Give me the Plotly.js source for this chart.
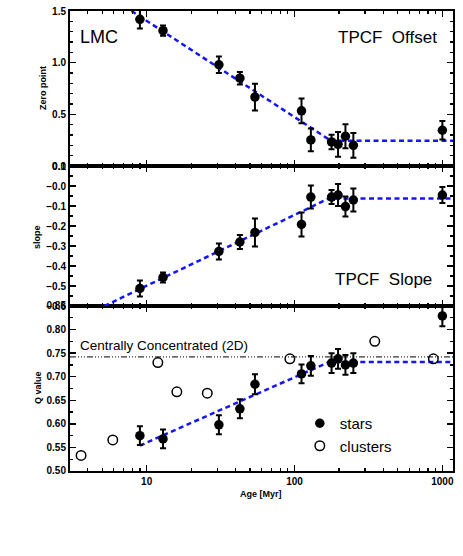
<!DOCTYPE html>
<html>
<head>
<meta charset="utf-8">
<script src="https://cdn.plot.ly/plotly-3.0.1.min.js"></script>
<style>html,body{margin:0;padding:0;background:#fff;}#plot{width:463px;height:556px;}</style>
</head>
<body>
<div id="plot"></div>
<script>
// ---- data ----
var starAge = [9.0, 12.9, 30.8, 42.7, 54, 111.5, 129, 178, 197, 221, 250, 1000];
var zeroPoint = [1.42, 1.31, 0.98, 0.85, 0.667, 0.534, 0.252, 0.233, 0.21, 0.288, 0.20, 0.346];
var zeroErr = [0.09, 0.05, 0.08, 0.06, 0.13, 0.12, 0.11, 0.07, 0.12, 0.115, 0.12, 0.09];
var slope = [-0.512, -0.457, -0.327, -0.28, -0.232, -0.192, -0.055, -0.055, -0.045, -0.103, -0.07, -0.045];
var slopeErr = [0.04, 0.025, 0.04, 0.035, 0.07, 0.06, 0.057, 0.035, 0.055, 0.05, 0.057, 0.04];
var qStars = [0.575, 0.568, 0.598, 0.632, 0.684, 0.706, 0.723, 0.729, 0.738, 0.725, 0.729, 0.829];
var qStarsErr = [0.02, 0.02, 0.02, 0.02, 0.021, 0.02, 0.021, 0.021, 0.021, 0.021, 0.021, 0.022];
var clusterAge = [3.6, 5.9, 11.9, 16, 25.7, 93, 349, 869];
var qClusters = [0.533, 0.566, 0.73, 0.668, 0.665, 0.738, 0.775, 0.738];
var fitZeroX = [7.9, 176, 1180], fitZeroY = [1.5, 0.245, 0.245];
var fitSlopeX = [5.18, 171, 1180], fitSlopeY = [-0.6, -0.062, -0.062];
var fitQX = [9.0, 171, 1180], fitQY = [0.554, 0.731, 0.731];
var ccX = [3.03, 1180], ccY = [0.742, 0.742];
var xTicks = [10, 100, 1000], xTickText = ['10', '100', '1000'];
var xMinor = [4,5,6,7,8,9,20,30,40,50,60,70,80,90,200,300,400,500,600,700,800,900];
var y1Ticks = [0, 0.5, 1.0, 1.5], y1Text = ['0.0', '0.5', '1.0', '1.5'];
var y2Ticks = [-0.6, -0.5, -0.4, -0.3, -0.2, -0.1, 0, 0.1];
var y2Text = ['\u22120.6', '\u22120.5', '\u22120.4', '\u22120.3', '\u22120.2', '\u22120.1', '\u22120.0', '0.1'];
var y3Ticks = [0.5, 0.55, 0.6, 0.65, 0.7, 0.75, 0.8, 0.85];
var y3Text = ['0.50', '0.55', '0.60', '0.65', '0.70', '0.75', '0.80', '0.85'];

// ---- styles ----
var BLUE = 'rgb(20,20,255)';
var tickFont = {family: 'Liberation Sans, Arial, sans-serif', size: 10, color: '#000', weight: 'bold'};
function errbar(arr) { return {type: 'data', array: arr, visible: true, color: '#000', thickness: 2, width: 3}; }
var starMarker = {symbol: 'circle', size: 9.5, color: '#000'};
var fitLine = {color: BLUE, width: 2.5, dash: '5px,3.5px'};

var traces = [
  {x: fitZeroX, y: fitZeroY, xaxis: 'x3', yaxis: 'y', mode: 'lines', line: fitLine, showlegend: false, hoverinfo: 'skip'},
  {x: starAge, y: zeroPoint, xaxis: 'x3', yaxis: 'y', mode: 'markers', marker: starMarker, error_y: errbar(zeroErr), showlegend: false},
  {x: fitSlopeX, y: fitSlopeY, xaxis: 'x2', yaxis: 'y2', mode: 'lines', line: fitLine, showlegend: false, hoverinfo: 'skip'},
  {x: starAge, y: slope, xaxis: 'x2', yaxis: 'y2', mode: 'markers', marker: starMarker, error_y: errbar(slopeErr), showlegend: false},
  {x: ccX, y: ccY, xaxis: 'x', yaxis: 'y3', mode: 'lines', line: {color: '#000', width: 1, dash: '6px,2px,1px,2px,1px,2px,1px,2px'}, showlegend: false, hoverinfo: 'skip'},
  {x: fitQX, y: fitQY, xaxis: 'x', yaxis: 'y3', mode: 'lines', line: fitLine, showlegend: false, hoverinfo: 'skip'},
  {x: starAge, y: qStars, xaxis: 'x', yaxis: 'y3', mode: 'markers', name: 'stars', marker: starMarker, error_y: errbar(qStarsErr), showlegend: true},
  {x: clusterAge, y: qClusters, xaxis: 'x', yaxis: 'y3', mode: 'markers', name: 'clusters', marker: {symbol: 'circle-open', size: 9.5, color: '#000', line: {width: 1.5, color: '#000'}}, showlegend: true}
];

var xRange = [Math.log10(3.03), Math.log10(1180)];
function xax(anchor, labels) {
  return {
    type: 'log', range: xRange, anchor: anchor, domain: [0, 1],
    showline: true, linewidth: 2, linecolor: '#000', mirror: 'allticks',
    ticks: 'inside', ticklen: 6, tickwidth: 1.5, tickcolor: '#000',
    tickmode: 'array', tickvals: xTicks, ticktext: xTickText,
    showticklabels: labels, tickfont: tickFont,
    minor: {tickmode: 'array', tickvals: xMinor, ticks: 'inside', ticklen: 3, tickwidth: 1.2, tickcolor: '#000', showgrid: false},
    showgrid: false, zeroline: false, fixedrange: true
  };
}
function yax(anchor, domain, range, vals, text, minorD) {
  return {
    anchor: anchor, domain: domain, range: range,
    showline: true, linewidth: 2, linecolor: '#000', mirror: 'allticks',
    ticks: 'inside', ticklen: 6, tickwidth: 1.5, tickcolor: '#000',
    tickmode: 'array', tickvals: vals, ticktext: text, tickfont: tickFont,
    minor: {dtick: minorD, ticks: 'inside', ticklen: 3, tickwidth: 1.2, tickcolor: '#000', showgrid: false},
    showgrid: false, zeroline: false, fixedrange: true
  };
}

var H = 460, L = 70, W = 383.3;
function px2x(p) { return (p - L) / W; }
function py2y(p) { return (471 - p) / H; }
var bigFont = {family: 'Liberation Sans, Arial, sans-serif', size: 18, color: '#000'};
var axTitleFont = {family: 'Liberation Sans, Arial, sans-serif', size: 9, color: '#000', weight: 'bold'};

var layout = {
  width: 463, height: 556,
  margin: {l: 70, r: 9.7, t: 11, b: 85, pad: 0},
  paper_bgcolor: '#fff', plot_bgcolor: '#fff',
  xaxis: xax('y3', true),
  xaxis2: xax('y2', false),
  xaxis3: xax('y', false),
  yaxis: yax('x3', [0.6630, 1], [0, 1.5], y1Ticks, y1Text, 0.1),
  yaxis2: yax('x2', [0.3587, 0.6630], [-0.6, 0.1], y2Ticks, y2Text, 0.05),
  yaxis3: yax('x', [0, 0.3587], [0.5, 0.85], y3Ticks, y3Text, 0.025),
  showlegend: true,
  legend: {x: px2x(300), y: py2y(407), xanchor: 'left', yanchor: 'top', bgcolor: 'rgba(0,0,0,0)',
           font: {family: 'Liberation Sans, Arial, sans-serif', size: 15, color: '#000'}, tracegroupgap: 0},
  annotations: [
    {text: 'LMC', x: px2x(78), y: py2y(37), xref: 'paper', yref: 'paper', xanchor: 'left', yanchor: 'middle', showarrow: false, font: bigFont},
    {text: 'TPCF  Offset', x: px2x(439), y: py2y(37), xref: 'paper', yref: 'paper', xanchor: 'right', yanchor: 'middle', showarrow: false, font: {family: bigFont.family, size: 17, color: '#000'}},
    {text: 'TPCF  Slope', x: px2x(434), y: py2y(279), xref: 'paper', yref: 'paper', xanchor: 'right', yanchor: 'middle', showarrow: false, font: {family: bigFont.family, size: 17, color: '#000'}},
    {text: 'Centrally Concentrated (2D)', x: px2x(78), y: py2y(345), xref: 'paper', yref: 'paper', xanchor: 'left', yanchor: 'middle', showarrow: false, font: {family: bigFont.family, size: 13.5, color: '#000'}},
    {text: 'Zero point', x: px2x(43), y: py2y(88), xref: 'paper', yref: 'paper', xanchor: 'center', yanchor: 'middle', textangle: -90, showarrow: false, font: axTitleFont},
    {text: 'slope', x: px2x(37), y: py2y(237), xref: 'paper', yref: 'paper', xanchor: 'center', yanchor: 'middle', textangle: -90, showarrow: false, font: axTitleFont},
    {text: 'Q value', x: px2x(38), y: py2y(388), xref: 'paper', yref: 'paper', xanchor: 'center', yanchor: 'middle', textangle: -90, showarrow: false, font: axTitleFont},
    {text: 'Age [Myr]', x: px2x(261), y: py2y(494), xref: 'paper', yref: 'paper', xanchor: 'center', yanchor: 'middle', showarrow: false, font: axTitleFont}
  ]
};

Plotly.newPlot('plot', traces, layout, {staticPlot: true, displayModeBar: false});
</script>
</body>
</html>
